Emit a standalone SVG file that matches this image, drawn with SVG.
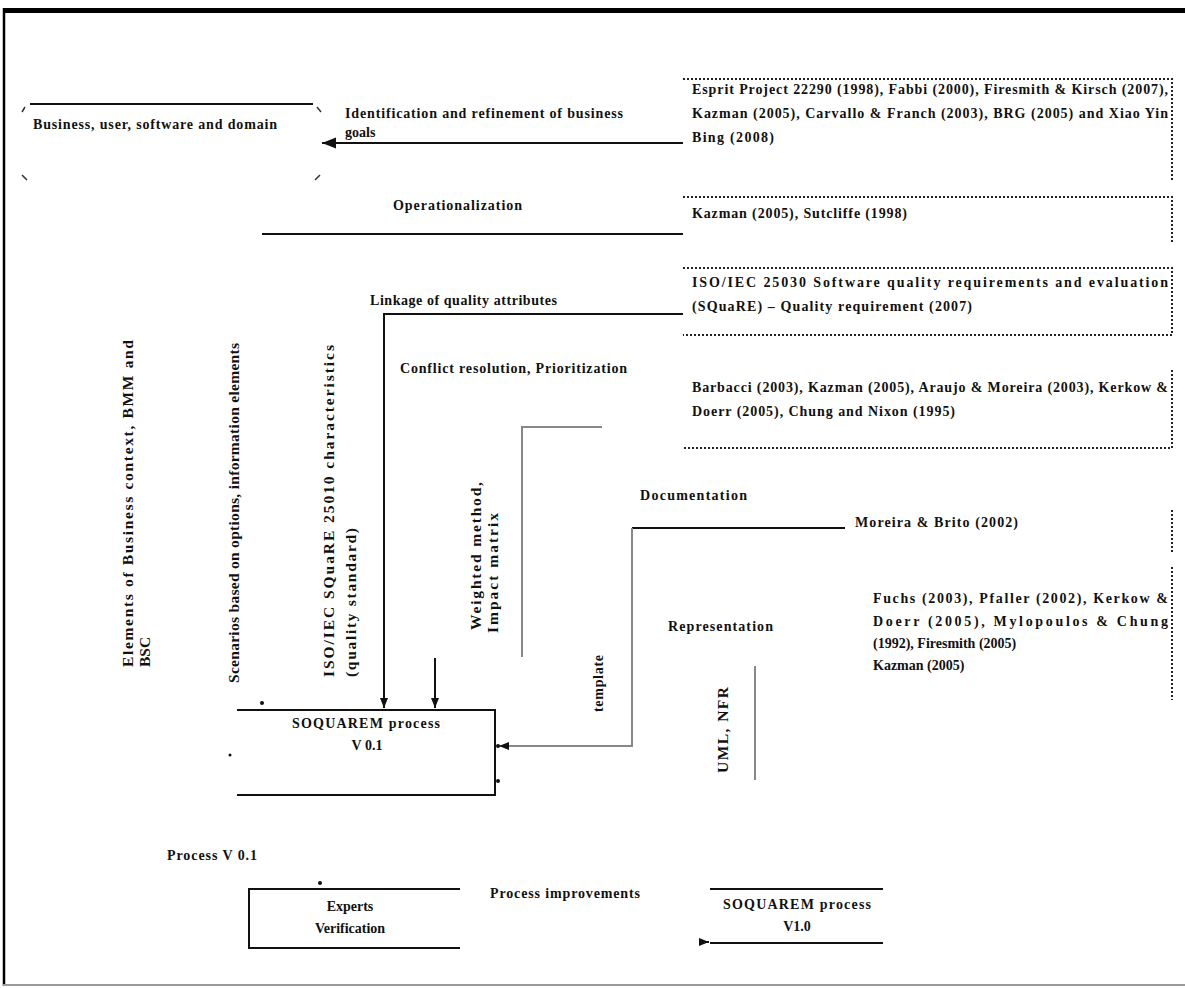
<svg xmlns="http://www.w3.org/2000/svg" width="1185" height="988" viewBox="0 0 1185 988">
<style>
text{font-family:"Liberation Serif","Times New Roman",serif;font-size:14px;font-weight:bold;fill:#111}
.v{font-size:15.5px}
.ln{stroke:#111;stroke-width:2;fill:none}
.gr{stroke:#888;stroke-width:2;fill:none}
.dot{stroke:#222;stroke-width:2;stroke-dasharray:2 2;fill:none}
</style>
<defs>
<marker id="ah" viewBox="0 0 10 10" refX="10" refY="5" markerWidth="7" markerHeight="7" orient="auto"><path d="M0,1 L10,5 L0,9 z" fill="#111"/></marker>
<marker id="ahs" viewBox="0 0 10 10" refX="10" refY="5" markerWidth="5" markerHeight="5" orient="auto"><path d="M0,1 L10,5 L0,9 z" fill="#111"/></marker>
</defs>
<rect width="1185" height="988" fill="#fff"/>
<g id="frame">
<rect x="3" y="8" width="1182" height="5" fill="#000"/>
<line x1="4" y1="8" x2="4" y2="986" stroke="#000" stroke-width="2.5"/>
<line x1="3" y1="985" x2="1185" y2="985" stroke="#999" stroke-width="2"/>
</g>
<g id="business">
<line class="ln" x1="30" y1="104" x2="313" y2="104" stroke-width="2.5"/>
<path stroke="#333" stroke-width="1.5" fill="none" d="M22,112 L25,107 M317,107 L321,112 M22,175 L27,180 M315,180 L320,175"/>
<text x="33" y="129" textLength="244" lengthAdjust="spacing">Business, user, software and domain</text>
</g>
<g id="connectors">
<line class="ln" x1="683" y1="143" x2="322" y2="143" marker-end="url(#ah)"/>
<line class="ln" x1="683" y1="234" x2="262" y2="234"/>
<polyline class="ln" points="683,314 384,314 384,708" marker-end="url(#ahs)"/>
<line class="ln" x1="435" y1="658" x2="435" y2="708" marker-end="url(#ahs)"/>
<polyline class="gr" points="602,427 522,427 522,657"/>
<line class="ln" x1="632" y1="528" x2="845" y2="528"/>
<polyline class="gr" points="632,528 632,746 499,746" marker-end="url(#ahs)"/>
<line class="gr" x1="755" y1="666" x2="755" y2="780"/>
<line class="ln" x1="703" y1="942" x2="709" y2="942" marker-end="url(#ahs)"/>
</g>
<g id="labels">
<text x="345" y="118" textLength="278" lengthAdjust="spacing">Identification and refinement of business</text>
<text x="345" y="137">goals</text>
<text x="393" y="210" textLength="129" lengthAdjust="spacing">Operationalization</text>
<text x="370" y="305" textLength="187" lengthAdjust="spacing">Linkage of quality attributes</text>
<text x="400" y="373" textLength="227" lengthAdjust="spacing">Conflict resolution, Prioritization</text>
<text x="640" y="500" textLength="107" lengthAdjust="spacing">Documentation</text>
<text x="668" y="631" textLength="105" lengthAdjust="spacing">Representation</text>
<text x="855" y="527" textLength="163" lengthAdjust="spacing">Moreira &amp; Brito (2002)</text>
<text x="167" y="860" textLength="90" lengthAdjust="spacing">Process V 0.1</text>
<text x="490" y="898" textLength="150" lengthAdjust="spacing">Process improvements</text>
<text class="v" transform="translate(133,667) rotate(-90)" textLength="327" lengthAdjust="spacing">Elements of Business context, BMM and</text>
<text class="v" transform="translate(150,667) rotate(-90)">BSC</text>
<text class="v" transform="translate(239,683) rotate(-90)" textLength="340" lengthAdjust="spacing">Scenarios based on options, information elements</text>
<text class="v" transform="translate(334,677) rotate(-90)" textLength="332" lengthAdjust="spacing">ISO/IEC SQuaRE 25010 characteristics</text>
<text class="v" transform="translate(356,677) rotate(-90)" textLength="149" lengthAdjust="spacing">(quality standard)</text>
<text class="v" transform="translate(481,630) rotate(-90)" textLength="148" lengthAdjust="spacing">Weighted method,</text>
<text class="v" transform="translate(498,633) rotate(-90)" textLength="120" lengthAdjust="spacing">Impact matrix</text>
<text transform="translate(603,712) rotate(-90)" textLength="57" lengthAdjust="spacing">template</text>
<text class="v" transform="translate(728,773) rotate(-90)" textLength="86" lengthAdjust="spacing">UML, NFR</text>
</g>
<g id="ref1">
<polyline class="dot" points="683,79 1172,79 1172,180"/>
<text x="692" y="94" textLength="476" lengthAdjust="spacing">Esprit Project 22290 (1998), Fabbi (2000), Firesmith &amp; Kirsch (2007),</text>
<text x="692" y="118" textLength="476" lengthAdjust="spacing">Kazman (2005), Carvallo &amp; Franch (2003), BRG (2005) and Xiao Yin</text>
<text x="692" y="142" textLength="82" lengthAdjust="spacing">Bing (2008)</text>
</g>
<g id="ref2">
<polyline class="dot" points="683,197 1172,197 1172,243"/>
<text x="692" y="218" textLength="215" lengthAdjust="spacing">Kazman (2005), Sutcliffe (1998)</text>
</g>
<g id="ref3">
<polyline class="dot" points="683,268 1172,268 1172,335 683,335"/>
<text x="692" y="287" textLength="476" lengthAdjust="spacing">ISO/IEC 25030 Software quality requirements and evaluation</text>
<text x="692" y="311" textLength="280" lengthAdjust="spacing">(SQuaRE) – Quality requirement (2007)</text>
</g>
<g id="ref4">
<polyline class="dot" points="1172,370 1172,448 683,448"/>
<text x="692" y="392" textLength="476" lengthAdjust="spacing">Barbacci (2003), Kazman (2005), Araujo &amp; Moreira (2003), Kerkow &amp;</text>
<text x="692" y="416" textLength="263" lengthAdjust="spacing">Doerr (2005), Chung and Nixon (1995)</text>
</g>
<g id="ref5">
<line class="dot" x1="1172" y1="510" x2="1172" y2="553"/>
</g>
<g id="ref6">
<line class="dot" x1="1172" y1="567" x2="1172" y2="700"/>
<text x="873" y="603" textLength="295" lengthAdjust="spacing">Fuchs (2003), Pfaller (2002), Kerkow &amp;</text>
<text x="873" y="626" textLength="295" lengthAdjust="spacing">Doerr (2005), Mylopoulos &amp; Chung</text>
<text x="873" y="648">(1992), Firesmith (2005)</text>
<text x="873" y="670">Kazman (2005)</text>
</g>
<g id="soquarem01">
<polyline class="ln" points="237,710 495,710 495,795 237,795" stroke-width="2.5"/>
<circle cx="262" cy="703" r="2" fill="#111"/>
<circle cx="230" cy="755" r="1.5" fill="#111"/>
<circle cx="498" cy="746" r="2" fill="#111"/>
<circle cx="498" cy="781" r="2" fill="#111"/>
<text x="292" y="728" textLength="148" lengthAdjust="spacing">SOQUAREM process</text>
<text x="367" y="750" text-anchor="middle">V 0.1</text>
</g>
<g id="experts">
<polyline class="ln" points="460,889 249,889 249,948 460,948" stroke-width="2.5"/>
<circle cx="320" cy="883" r="2" fill="#111"/>
<text x="350" y="911" text-anchor="middle">Experts</text>
<text x="350" y="933" text-anchor="middle">Verification</text>
</g>
<g id="soquarem10">
<line class="ln" x1="710" y1="889" x2="883" y2="889" stroke-width="2.5"/>
<line class="ln" x1="710" y1="943" x2="883" y2="943" stroke-width="2.5"/>
<text x="723" y="909" textLength="148" lengthAdjust="spacing">SOQUAREM process</text>
<text x="797" y="931" text-anchor="middle">V1.0</text>
</g>
</svg>
